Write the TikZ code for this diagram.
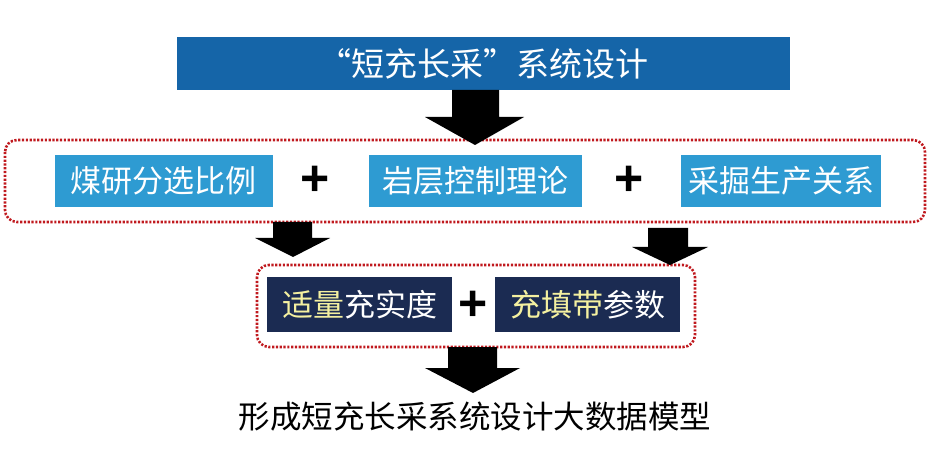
\documentclass[tikz,border=0pt]{standalone}
\usepackage{fontspec}
\newfontfamily\cjk{Noto Sans CJK SC}
\newfontfamily\plusfont{Liberation Sans}
\usetikzlibrary{calc}
\definecolor{topblue}{HTML}{1565A8}
\definecolor{midblue}{HTML}{2E9BD2}
\definecolor{navy}{HTML}{1B2B52}
\definecolor{dotred}{HTML}{C0191E}
\definecolor{lyellow}{HTML}{F4F0A0}
\tikzset{
  x=1pt, y=-1pt,
  topbox/.style={fill=topblue, text=white, inner sep=0pt, font=\cjk\fontsize{33}{33}\selectfont},
  midbox/.style={fill=midblue, text=white, inner sep=0pt, font=\cjk\fontsize{31}{31}\selectfont},
  darkbox/.style={fill=navy, text=white, inner sep=0pt, font=\cjk\fontsize{31}{31}\selectfont},
  plussign/.style={inner sep=0pt, font=\plusfont\bfseries\fontsize{50}{50}\selectfont},
  groupbox/.style={draw=dotred, line width=2.6pt, dash pattern=on 2.2pt off 1.6pt, rounded corners=12pt},
  bigarrow/.style={fill=black},
}
\begin{document}
\begin{tikzpicture}
\useasboundingbox (0,0) rectangle (929,465);
% group frames
\draw[groupbox] (5,140) rectangle (925,222);
\draw[groupbox] (257,265) rectangle (695,347);
% top box
\node[topbox, minimum width=613pt, minimum height=53pt] (top) at (483.5,63.5) {“短充长采”系统设计};
% middle boxes
\node[midbox, minimum width=218pt, minimum height=52pt] (a) at (163.5,181) {煤研分选比例};
\node[midbox, minimum width=213pt, minimum height=52pt] (b) at (475.25,181) {岩层控制理论};
\node[midbox, minimum width=200pt, minimum height=52pt] (c) at (781.25,181) {采掘生产关系};
\node[plussign] (p1) at (315,181) {+};
\node[plussign] (p2) at (629,181) {+};
% dark boxes
\node[darkbox, minimum width=185pt, minimum height=55pt] (d) at (359.5,304.5) {\textcolor{lyellow}{适量}充实度};
\node[darkbox, minimum width=185pt, minimum height=55pt] (e) at (587.5,304.5) {\textcolor{lyellow}{充填带}参数};
\node[plussign] (p3) at (473,306) {+};
% bottom text
\node[inner sep=0pt, font=\cjk\fontsize{31.5}{31.5}\selectfont] (res) at (475,417) {形成短充长采系统设计大数据模型};
% block arrows
\fill[bigarrow] (452,90) -- (499,90) -- (499,117) -- (524,117) -- (475,145) -- (425,117) -- (452,117) -- cycle;
\fill[bigarrow] (273,222) -- (312,222) -- (312,238) -- (330,238) -- (293,257) -- (255,238) -- (273,238) -- cycle;
\fill[bigarrow] (648,228) -- (688,228) -- (688,247) -- (708,247) -- (670,265) -- (632,247) -- (648,247) -- cycle;
\fill[bigarrow] (448,347) -- (497,347) -- (497,368) -- (520,368) -- (473,393) -- (425,368) -- (448,368) -- cycle;
\end{tikzpicture}
\end{document}
